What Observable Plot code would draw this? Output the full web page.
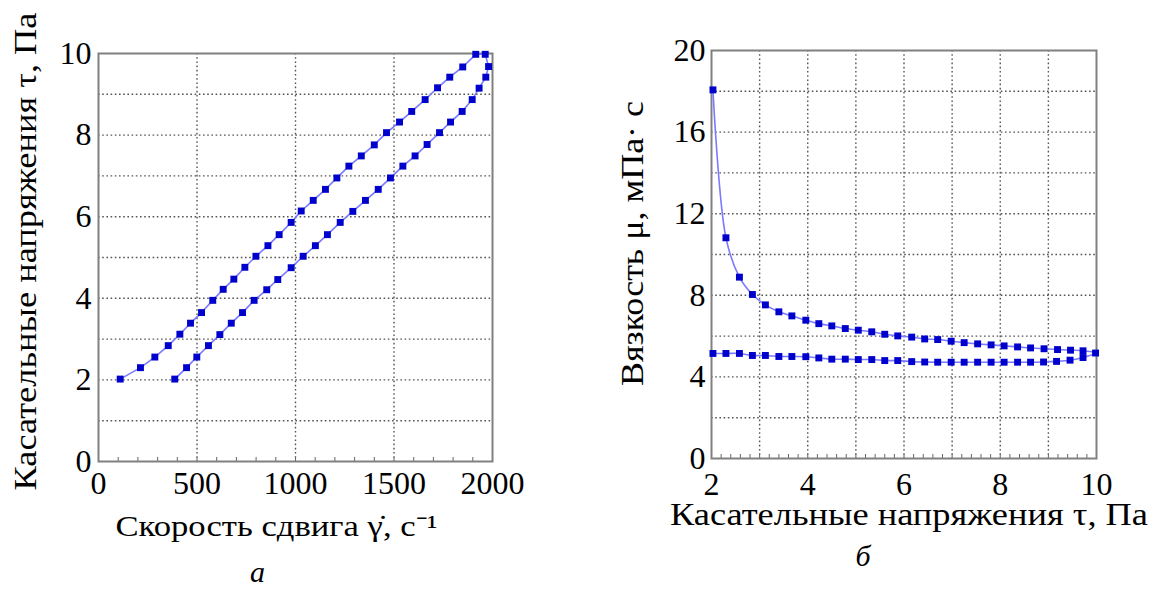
<!DOCTYPE html>
<html>
<head>
<meta charset="utf-8">
<script src="https://cdn.jsdelivr.net/npm/d3@7"></script>
<script src="https://cdn.jsdelivr.net/npm/@observablehq/plot@0.6"></script>
<style>
  html, body { margin: 0; padding: 0; background: #fff; font-family: "Liberation Serif", "Times New Roman", serif; }
  #wrap { position: relative; width: 1155px; height: 598px; display: flex; flex-direction: row; background: #fff; }
  #wrap svg { display: block; flex: none; }
</style>
</head>
<body>
<div id="wrap"></div>
<script>
// ---------- Data: chart (а) — shear stress vs shear rate (hysteresis loop) ----------
const shearRate = [110, 213, 286, 354, 413, 467, 523, 580, 633, 687, 743, 799, 860, 917, 978, 1029, 1090, 1152, 1210, 1271, 1334, 1400, 1462, 1528, 1590, 1658, 1721, 1783, 1849, 1915, 1963,
  1980, 1966, 1932, 1897, 1846, 1787, 1731, 1668, 1607, 1545, 1482, 1420, 1355, 1291, 1227, 1162, 1101, 1039, 978, 910, 854, 790, 731, 674, 616, 558, 499, 447, 387];
const shearStressA = [2.02, 2.30, 2.56, 2.84, 3.12, 3.39, 3.65, 3.95, 4.22, 4.47, 4.76, 5.03, 5.29, 5.56, 5.86, 6.14, 6.40, 6.67, 6.95, 7.24, 7.49, 7.76, 8.06, 8.32, 8.58, 8.87, 9.16, 9.42, 9.67, 9.98, 9.98,
  9.68, 9.42, 9.15, 8.87, 8.58, 8.32, 8.06, 7.77, 7.49, 7.24, 6.95, 6.67, 6.40, 6.13, 5.86, 5.56, 5.29, 5.03, 4.75, 4.46, 4.21, 3.95, 3.65, 3.39, 3.11, 2.84, 2.56, 2.30, 2.02];

// ---------- Data: chart (б) — viscosity vs shear stress ----------
const shearStressB = [2.03, 2.30, 2.58, 2.85, 3.12, 3.40, 3.67, 3.96, 4.23, 4.50, 4.78, 5.05, 5.33, 5.60, 5.87, 6.16, 6.43, 6.70, 6.98, 7.25, 7.53, 7.81, 8.08, 8.36, 8.63, 8.91, 9.19, 9.46, 9.72, 9.98,
  9.72, 9.45, 9.17, 8.90, 8.63, 8.36, 8.08, 7.81, 7.53, 7.25, 6.98, 6.70, 6.43, 6.16, 5.87, 5.60, 5.33, 5.05, 4.78, 4.50, 4.23, 3.96, 3.67, 3.40, 3.12, 2.85, 2.58, 2.30, 2.03];
const viscosity = [18.07, 10.82, 8.89, 8.04, 7.53, 7.19, 6.99, 6.78, 6.61, 6.50, 6.37, 6.29, 6.21, 6.09, 6.01, 5.95, 5.86, 5.83, 5.75, 5.68, 5.62, 5.57, 5.52, 5.47, 5.42, 5.38, 5.34, 5.31, 5.28, 5.17,
  4.95, 4.82, 4.76, 4.73, 4.72, 4.72, 4.72, 4.72, 4.72, 4.72, 4.72, 4.72, 4.73, 4.75, 4.80, 4.80, 4.85, 4.85, 4.87, 4.87, 4.93, 4.99, 5.00, 5.00, 5.05, 5.05, 5.15, 5.15, 5.15];

// ---------- Ticks and labels ----------
const ticksAx = [0, 500, 1000, 1500, 2000];
const ticksAy = [0, 2, 4, 6, 8, 10];
const gridAx = [500, 1000, 1500];
const gridAy = [1, 2, 3, 4, 5, 6, 7, 8, 9];
const minorAx = d3.range(100, 2000, 100);
const ticksBx = [2, 4, 6, 8, 10];
const ticksBy = [0, 4, 8, 12, 16, 20];
const gridBx = [3, 4, 5, 6, 7, 8, 9];
const gridBy = [2, 4, 6, 8, 10, 12, 14, 16, 18];
const minorBx = d3.range(2.2, 10, 0.2);

const xTitleA = "Скорость сдвига γ̇, с⁻¹";
const yTitleA = "Касательные напряжения τ, Па";
const captionA = "а";
const xTitleB = "Касательные напряжения τ, Па";
const yTitleB = "Вязкость μ, мПа· с";
const captionB = "б";

const FONT = "Liberation Serif, Times New Roman, serif";
const LINE = "#7a7aff";
const DOT = "#0000cc";
const GRID = "#555";
const FRAME = "#808080";
const fmt = d3.format("d");

const dataA = shearRate.map((x, i) => ({x, y: shearStressA[i]}));
const dataB = shearStressB.map((x, i) => ({x, y: viscosity[i]}));

const gridStyle = {stroke: GRID, strokeOpacity: 1, strokeDasharray: "1.6,2.6", strokeWidth: 1.4};

const plotA = Plot.plot({
  width: 580, height: 598,
  marginLeft: 98, marginRight: 88, marginTop: 53, marginBottom: 137,
  style: {fontFamily: FONT},
  x: {domain: [0, 2000]},
  y: {domain: [0, 10]},
  marks: [
    Plot.gridX(gridAx, gridStyle),
    Plot.gridY(gridAy, gridStyle),
    Plot.axisX({ticks: minorAx, tickSize: -4, tickFormat: () => "", label: null, stroke: "#666"}),
    Plot.frame({stroke: FRAME, strokeWidth: 2}),
    Plot.axisX({ticks: ticksAx, tickSize: 0, tickPadding: 10, fontSize: 32, label: null, tickFormat: fmt, fontFamily: FONT}),
    Plot.axisY({ticks: ticksAy, tickSize: 0, tickPadding: 7, fontSize: 32, label: null, tickFormat: fmt, fontFamily: FONT}),
    Plot.line(dataA, {x: "x", y: "y", stroke: LINE, strokeWidth: 1.6}),
    Plot.dot(dataA, {x: "x", y: "y", symbol: "square", r: 3.9, fill: DOT, stroke: "none"}),
    Plot.text([yTitleA], {frameAnchor: "left", textAnchor: "middle", text: d => d, rotate: -90, dx: -72, dy: -6, fontSize: 31, fontFamily: FONT}),
    Plot.text([xTitleA], {frameAnchor: "bottom", textAnchor: "middle", text: d => d, dx: -19, dy: 74, fontSize: 30, fontFamily: FONT}),
    Plot.text([captionA], {frameAnchor: "bottom", textAnchor: "middle", text: d => d, dx: -38, dy: 120, fontSize: 30, fontStyle: "italic", fontFamily: FONT})
  ]
});

const plotB = Plot.plot({
  width: 575, height: 598,
  marginLeft: 131, marginRight: 59, marginTop: 50, marginBottom: 140,
  style: {fontFamily: FONT},
  x: {domain: [2, 10]},
  y: {domain: [0, 20]},
  marks: [
    Plot.gridX(gridBx, gridStyle),
    Plot.gridY(gridBy, gridStyle),
    Plot.axisX({ticks: minorBx, tickSize: -4, tickFormat: () => "", label: null, stroke: "#666"}),
    Plot.frame({stroke: FRAME, strokeWidth: 2}),
    Plot.axisX({ticks: ticksBx, tickSize: 0, tickPadding: 14, fontSize: 32, label: null, tickFormat: fmt, fontFamily: FONT}),
    Plot.axisY({ticks: ticksBy, tickSize: 0, tickPadding: 6, fontSize: 32, label: null, tickFormat: fmt, fontFamily: FONT}),
    Plot.line(dataB, {x: "x", y: "y", stroke: LINE, strokeWidth: 1.6, curve: "catmull-rom"}),
    Plot.dot(dataB, {x: "x", y: "y", symbol: "square", r: 3.9, fill: DOT, stroke: "none"}),
    Plot.text([yTitleB], {frameAnchor: "left", textAnchor: "middle", text: d => d, rotate: -90, dx: -78, dy: -11, fontSize: 31, fontFamily: FONT}),
    Plot.text([xTitleB], {frameAnchor: "bottom", textAnchor: "middle", text: d => d, dx: 5, dy: 66, fontSize: 31, fontFamily: FONT}),
    Plot.text([captionB], {frameAnchor: "bottom", textAnchor: "middle", text: d => d, dx: -41, dy: 107, fontSize: 30, fontStyle: "italic", fontFamily: FONT})
  ]
});

// stretch/shrink the axis titles to the lengths seen in the reference
const titleLengths = new Map([[yTitleA, 480], [xTitleA, 322], [xTitleB, 478], [yTitleB, 285]]);
for (const svg of [plotA, plotB]) {
  d3.select(svg).selectAll("text").each(function() {
    const L = titleLengths.get(this.textContent);
    if (L) d3.select(this).attr("textLength", L).attr("lengthAdjust", "spacingAndGlyphs");
  });
}

document.getElementById("wrap").append(plotA, plotB);
</script>
</body>
</html>
